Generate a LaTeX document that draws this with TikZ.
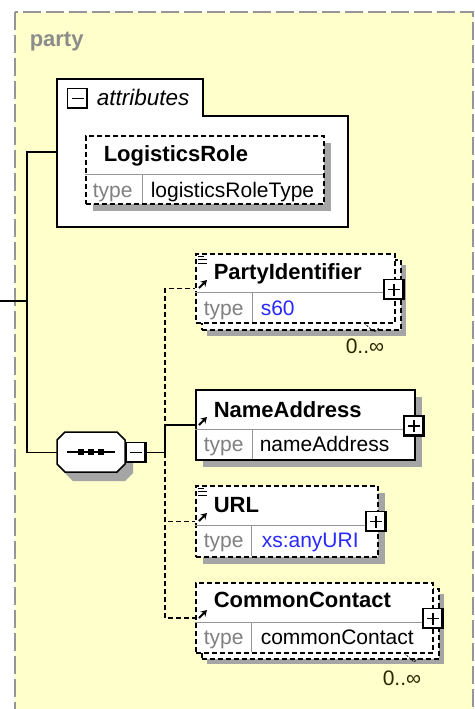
\documentclass[tikz,border=0pt]{standalone}
\usepackage{fontspec}
\setmainfont{Liberation Sans}
\usetikzlibrary{arrows.meta}
\definecolor{partyfill}{RGB}{255,255,204}
\definecolor{partyline}{RGB}{150,150,150}
\definecolor{partygray}{RGB}{140,140,140}
\definecolor{boxgray}{RGB}{165,165,165}
\definecolor{cutgray}{RGB}{150,150,150}
\definecolor{typegray}{RGB}{128,128,128}
\definecolor{valblue}{RGB}{40,40,255}
\definecolor{occink}{RGB}{40,40,0}
\begin{document}
\begin{tikzpicture}[x=1pt, y=-1pt, line width=1.5pt,
    elembox/.style={draw, fill=white, anchor=north west, inner sep=0pt},
    optional/.style={dash pattern=on 5pt off 3pt},
    boxshadow/.style={fill=boxgray},
    keybox/.style={draw, fill=white, minimum size=20pt, inner sep=0pt},
    pluskey/.style={keybox, path picture={
      \draw[line width=4pt] (path picture bounding box.north east) -- (path picture bounding box.south east) -- (path picture bounding box.south west);
      \draw[line width=1.5pt] ([xshift=-6pt]path picture bounding box.center) -- ([xshift=6pt]path picture bounding box.center)
        ([yshift=-6pt]path picture bounding box.center) -- ([yshift=6pt]path picture bounding box.center);}},
    minuskey/.style={keybox, path picture={
      \draw[line width=4pt] (path picture bounding box.north east) -- (path picture bounding box.south east) -- (path picture bounding box.south west);
      \draw[line width=1.5pt] ([xshift=-6pt]path picture bounding box.center) -- ([xshift=6pt]path picture bounding box.center);}},
    lbl/.style={inner sep=0pt, anchor=base west, font=\fontsize{21}{25}\selectfont},
    elemname/.style={lbl, font=\fontsize{22}{26}\selectfont\bfseries},
    typelbl/.style={lbl, text=typegray},
    cutline/.style={draw=cutgray, line width=1pt},
    ref/.style={line width=2pt, -{Stealth[length=6pt, width=7pt]}},
    facets/.style={line width=1pt},
    occurs/.style={lbl, text=occink},
    tick/.style={line width=0.8pt, dash pattern=on 2pt off 1.5pt}]
  \useasboundingbox (0,0) rectangle (474,709);
  % party group
  \begin{scope}
    \clip (0,0) rectangle (474,709);
    \draw[draw=partyline, fill=partyfill, line width=2pt, dash pattern=on 18pt off 5pt] (15,12) rectangle (473,740);
  \end{scope}
  \node[elemname, text=partygray] (party) at (29,47) {party};

  % attributes
  \draw[fill=white] (57,79) -- (203,79) -- (203,116) -- (348,116) -- (348,227) -- (57,227) -- cycle;
  \node[minuskey] (attrkey) at (77.5,98.5) {};
  \node[lbl, font=\fontsize{22.5}{26}\selectfont\itshape] (attrlbl) at (96,105) {attributes};

  \fill[boxshadow] (93,143) rectangle (331,211);
  \node[elembox, optional, minimum width=238pt, minimum height=68pt] (role) at (85,135) {};
  \draw[cutline] (85,174) -- (323,174) (142,174) -- (142,203);
  \node[elemname] (rolename) at (103,161) {LogisticsRole};
  \node[typelbl] (roletype) at (92,197) {type};
  \node[lbl] (roleval) at (150,197) {logisticsRoleType};

  % sequence
  \begin{scope}[shift={(8,9)}]
    \fill[boxshadow] (65,432) -- (117,432) -- (125,440) -- (125,464) -- (117,472) -- (65,472) -- (57,464) -- (57,440) -- cycle;
  \end{scope}
  \draw[fill=white] (65,432) -- (117,432) -- (125,440) -- (125,464) -- (117,472) -- (65,472) -- (57,464) -- (57,440) -- cycle;
  \draw (67,452) -- (115,452);
  \foreach \x in {81,91,101}
    \fill (\x-2.75,449.25) rectangle +(5.5,5.5);
  \node[minuskey] (seqkey) at (136,452.5) {};

  \coordinate (in) at (0,301);
  \coordinate (trunk) at (27,301);
  \coordinate (attrin) at (57,152);
  \coordinate (seq) at (57,452.5);
  \coordinate (split) at (165,452.5);

  % PartyIdentifier
  \fill[boxshadow] (207,265) rectangle (406,336);
  \node[elembox, optional, minimum width=199pt, minimum height=70pt] (pidback) at (201,259) {};
  \node[elembox, optional, minimum width=199pt, minimum height=69pt] (pid) at (195,253) {};
  \draw[cutline] (195,292) -- (394,292) (252,292) -- (252,322);
  \draw[facets] (198,256) -- (204,256) (198,259.5) -- (207,259.5) (198,263) -- (207,263);
  \draw[ref] (199,288) -- (207,280);
  \node[elemname] (pidname) at (213,279) {PartyIdentifier};
  \node[typelbl] (pidtype) at (203,315) {type};
  \node[lbl, text=valblue] (pidval) at (260,315) {s60};
  \node[pluskey] (pidkey) at (394,289.5) {};
  \draw[tick] (364,323) -- (374,332) -- (379,328);
  \node[occurs] (pidocc) at (345,353) {0..∞};

  % NameAddress
  \fill[boxshadow] (203,397) rectangle (422,467);
  \node[elembox, minimum width=219pt, minimum height=70pt] (na) at (195,389) {};
  \draw[cutline] (195,429) -- (414,429) (252,429) -- (252,459);
  \draw[ref] (199,425) -- (207,417);
  \node[elemname] (naname) at (213,417) {NameAddress};
  \node[typelbl] (natype) at (203,451) {type};
  \node[lbl] (naval) at (259,451) {nameAddress};
  \node[pluskey] (nakey) at (414,426) {};

  % URL
  \fill[boxshadow] (203,493) rectangle (385,564);
  \node[elembox, optional, minimum width=182pt, minimum height=71pt] (url) at (195,485) {};
  \draw[cutline] (195,525) -- (377,525) (251,525) -- (251,556);
  \draw[facets] (198,488) -- (204,488) (198,491.5) -- (207,491.5) (198,495) -- (207,495);
  \draw[ref] (199,521) -- (207,513);
  \node[elemname] (urlname) at (213,512) {URL};
  \node[typelbl] (urltype) at (203,547) {type};
  \node[lbl, text=valblue] (urlval) at (261,547) {xs:anyURI};
  \node[pluskey] (urlkey) at (376,521.5) {};

  % CommonContact
  \fill[boxshadow] (207,594) rectangle (444,664);
  \node[elembox, optional, minimum width=237pt, minimum height=70pt] (ccback) at (201,588) {};
  \node[elembox, optional, minimum width=237pt, minimum height=70pt] (cc) at (195,582) {};
  \draw[cutline] (195,622) -- (432,622) (251,622) -- (251,652);
  \draw[ref] (199,618) -- (207,610);
  \node[elemname] (ccname) at (213,607) {CommonContact};
  \node[typelbl] (cctype) at (203,644) {type};
  \node[lbl] (ccval) at (260,644) {commonContact};
  \node[pluskey] (cckey) at (433,618.5) {};
  \draw[tick] (404,653) -- (414,662) -- (419,658);
  \node[occurs] (ccocc) at (382,685) {0..∞};

  % connectors
  \draw (in) -- (trunk);
  \draw (attrin) -| (trunk) |- (seq);
  \draw (seqkey.east) -- (split);
  \draw[optional] (split) |- (pid.west);
  \draw[optional] (split) |- (url.west);
  \draw[optional] (split) |- (cc.west);
  \draw (split) |- (na.west);
\end{tikzpicture}
\end{document}
